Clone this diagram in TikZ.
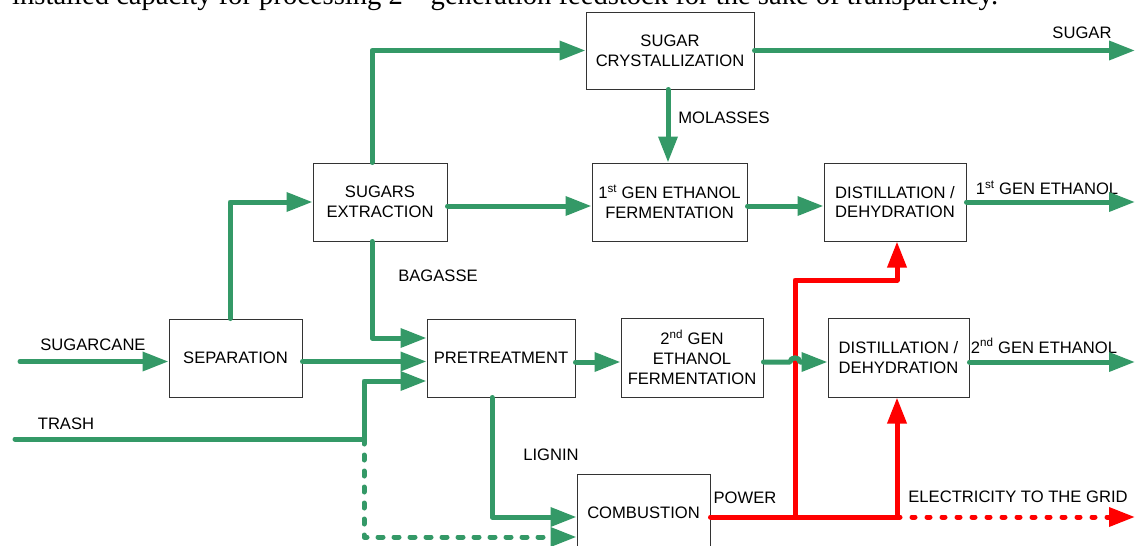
\documentclass[tikz,border=0pt]{standalone}
\usepackage{fontspec}
\setmainfont{Liberation Sans}
\newfontfamily\serifpart{Liberation Serif}
\usetikzlibrary{arrows.meta}
\definecolor{flowgreen}{RGB}{52,153,103}
\definecolor{powerred}{RGB}{255,0,0}
\begin{document}
\begin{tikzpicture}[x=1pt,y=-1pt,
  font=\fontsize{16.6}{19.8}\selectfont,
  procbox/.style={draw=black!80, line width=1pt, fill=white, align=center, inner sep=0pt},
  lbl/.style={inner sep=0pt, align=center},
  tip/.style={-{Triangle[length=26pt,width=18.5pt]}},
  flow/.style={draw=flowgreen, line width=5pt, line cap=round, line join=round, tip},
  flowdash/.style={flow, dash pattern=on 5pt off 11pt},
  power/.style={draw=powerred, line width=5pt, line cap=round, line join=round},
  powerarrow/.style={power, tip},
  powerdash/.style={power, tip, dash pattern=on 3pt off 12pt}]
\useasboundingbox (0,0) rectangle (1135,546);
\fill[white] (0,0) rectangle (1135,546);

% cut-off caption line at the top
\node[anchor=base west, inner sep=0pt] (cap) at (12,4.5)
  {\resizebox{986pt}{!}{\serifpart\fontsize{22}{26}\selectfont installed capacity for processing 2\textsuperscript{nd} generation feedstock for the sake of transparency.}};

% process boxes
\node[procbox, minimum width=168pt, minimum height=77pt] (cryst) at (670,50.5) {SUGAR\\CRYSTALLIZATION};
\node[procbox, minimum width=134pt, minimum height=78pt] (sext) at (380,202) {SUGARS\\EXTRACTION};
\node[procbox, minimum width=155pt, minimum height=78pt] (gen1) at (669.5,202) {1\textsuperscript{st} GEN ETHANOL\\FERMENTATION};
\node[procbox, minimum width=142pt, minimum height=78pt] (dist1) at (895,202) {DISTILLATION /\\DEHYDRATION};
\node[procbox, minimum width=133pt, minimum height=78pt] (sep) at (235.5,358) {SEPARATION};
\node[procbox, minimum width=148pt, minimum height=78pt] (pre) at (501,358) {PRETREATMENT};
\node[procbox, minimum width=142pt, minimum height=79pt] (gen2) at (692,357.5) {2\textsuperscript{nd} GEN\\ETHANOL\\FERMENTATION};
\node[procbox, minimum width=141pt, minimum height=79pt] (dist2) at (898.5,357.5) {DISTILLATION /\\DEHYDRATION};
\node[procbox, minimum width=133pt, minimum height=78pt] (comb) at (643.5,513) {COMBUSTION};

% free ends
\coordinate (cane) at (20,361.5);
\coordinate (trash) at (15,439);
\coordinate (tj) at (364,439);
\coordinate (sugarout) at (1135,50.5);
\coordinate (eth1out) at (1135,202);
\coordinate (eth2out) at (1135,362);
\coordinate (g1) at (795,517);
\coordinate (g2) at (897,517);
\coordinate (rc) at (795,280);
\coordinate (gridout) at (1135,517);
\coordinate (hopa) at (790,362);
\coordinate (hopb) at (800,362);

% labels
\node[lbl] (lcane) at (93,345) {SUGARCANE};
\node[lbl] (ltrash) at (66,424) {TRASH};
\node[lbl] (lsugar) at (1082,33) {SUGAR};
\node[lbl] (lmol) at (724,118) {MOLASSES};
\node[lbl] (lbag) at (438,276) {BAGASSE};
\node[lbl] (llig) at (551,455) {LIGNIN};
\node[lbl] (lpow) at (745,498) {POWER};
\node[lbl] (lgrid) at (1018,497) {ELECTRICITY TO THE GRID};
\node[lbl] (leth1) at (1047,188) {1\textsuperscript{st} GEN ETHANOL};
\node[lbl] (leth2) at (1044,346) {2\textsuperscript{nd} GEN ETHANOL};

% green flows
\draw[flow] (cane) -- (cane -| sep.west);
\draw[flow] ([xshift=-5.5pt]sep.north) |- (sext.west);
\draw[flow] ([yshift=-3.5pt]sep.east) -- ([yshift=-3.5pt]pre.west);
\draw[flow] ([xshift=-8pt]sext.south) |- ([yshift=20pt]pre.west);
\draw[flow] ([xshift=-8pt]sext.north) |- (cryst.west);
\draw[flow] (cryst.east) -- (sugarout);
\draw[flow] ([xshift=-2pt]cryst.south) -- ([xshift=-1.5pt]gen1.north);
\draw[flow] ([yshift=-4pt]sext.east) -- ([yshift=-4pt]gen1.west);
\draw[flow] ([yshift=-4pt]gen1.east) -- ([yshift=-4pt]dist1.west);
\draw[flow] (dist1.east) -- (eth1out);
\draw[flow] ([yshift=-4pt]pre.east) -- ([yshift=-4.5pt]gen2.west);
\draw[flow] ([yshift=-4.5pt]dist2.east) -- (eth2out);
\draw[flow] (trash) -- (tj) |- ([yshift=-23pt]pre.west);
\draw[flowdash] (tj) |- ([yshift=-24pt]comb.west);
\draw[flow] ([xshift=-9pt]pre.south) |- ([yshift=-4pt]comb.west);

% red power lines
\draw[power] ([yshift=-4pt]comb.east) -- (g2);
\draw[powerdash] (g2) -- (gridout);
\draw[powerarrow] (g1) -- (rc) -| ([xshift=2pt]dist1.south);
\draw[powerarrow] (g2) -- ([xshift=-1.5pt]dist2.south);

% 2nd gen to distillation, hopping over the red line
\draw[flow] ([yshift=-4.5pt]gen2.east) -- (hopa) .. controls (790,356.5) and (800,356.5) .. (hopb) -- ([yshift=-4.5pt]dist2.west);
\end{tikzpicture}
\end{document}
